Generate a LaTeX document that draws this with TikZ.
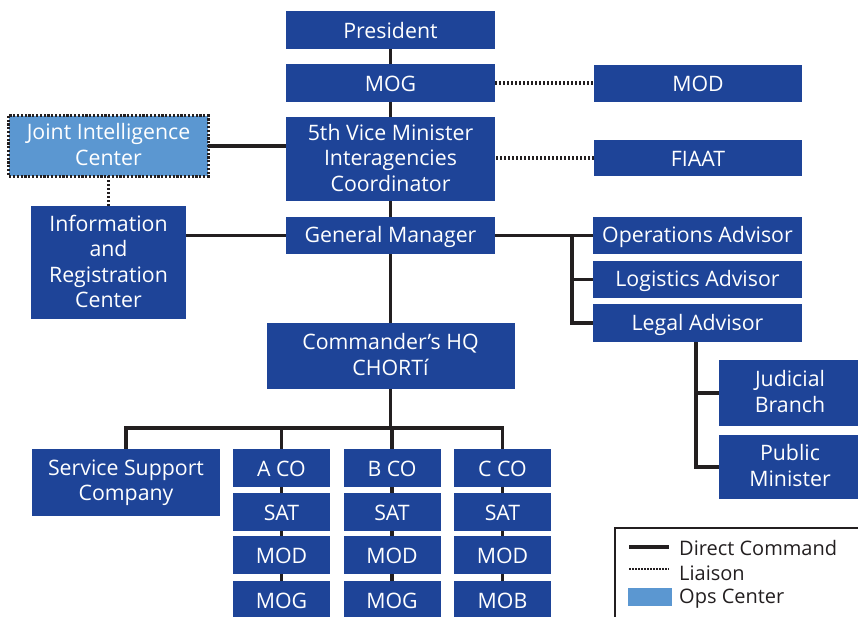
\documentclass[tikz,border=0pt]{standalone}
\usepackage{fontspec}
\setmainfont{Open Sans}
\definecolor{dblue}{HTML}{1E4498}
\definecolor{lblue}{HTML}{5B97D1}
\definecolor{ink}{HTML}{231F20}
\newcommand{\bxstrut}{\rule[-2.8pt]{0pt}{22.8pt}}
\begin{document}
\begin{tikzpicture}[x=1pt,y=-1pt,
  box/.style={fill=dblue, text=white, inner sep=0pt, align=center,
    font=\fontsize{21.3}{25.5}\selectfont,
    execute at begin node=\bxstrut, execute at end node=\bxstrut},
  cmd/.style={draw=ink, line width=3.6pt},
  liaison/.style={draw=ink, line width=3.4pt, dash pattern=on 2.2pt off 1.8pt},
  legtext/.style={anchor=west, inner sep=0pt, text=ink, font=\fontsize{20}{24}\selectfont}]
\useasboundingbox (0,0) rectangle (858,616);
\clip (0,0) rectangle (858,616);
% top column
\node[box, minimum width=209pt, minimum height=38pt] (pres) at (390.5,30) {President};
\node[box, minimum width=209pt, minimum height=38pt] (mog) at (390.5,83) {MOG};
\node[box, minimum width=209pt, minimum height=84pt] (vm) at (390.5,159) {5th Vice Minister\\Interagencies\\Coordinator};
\node[box, minimum width=209pt, minimum height=37pt] (gm) at (390.5,235.5) {General Manager};
\node[box, minimum width=248pt, minimum height=66pt] (hq) at (390.5,356) {Commander’s HQ\\CHORTí};
% right
\node[box, minimum width=208pt, minimum height=37pt] (mod) at (698,83) {MOD};
\node[box, minimum width=208pt, minimum height=36pt] (fiaat) at (698,158) {FIAAT};
\node[box, minimum width=209pt, minimum height=37pt] (ops) at (697.5,235.5) {Operations Advisor};
\node[box, minimum width=209pt, minimum height=37pt] (log) at (697.5,279.5) {Logistics Advisor};
\node[box, minimum width=209pt, minimum height=38pt] (legal) at (697.5,323) {Legal Advisor};
\node[box, minimum width=142pt, minimum height=66pt] (jud) at (790,393) {Judicial\\Branch};
\node[box, minimum width=142pt, minimum height=64pt] (pub) at (790,467) {Public\\Minister};
% left
\node[box, fill=lblue, minimum width=199pt, minimum height=60pt] (jic) at (108.5,146) {Joint Intelligence\\Center};
\draw[liaison, line width=3.2pt, dash pattern=on 2.2pt off 1.6pt] (jic.north west) rectangle (jic.south east);
\node[box, minimum width=155pt, minimum height=113pt] (info) at (108.5,262.5) {Information\\and\\Registration\\Center};
% bottom
\node[box, minimum width=188pt, minimum height=67pt] (ssc) at (126,482.5) {Service Support\\Company};
\foreach \c/\x/\u/\l in {a/281.5/A/MOG, b/392/B/MOG, c/502.5/C/MOB}{
  \node[box, minimum width=97pt, minimum height=38pt] (\c co) at (\x,468) {\u\ CO};
  \node[box, minimum width=97pt, minimum height=38pt] (\c sat) at (\x,512) {SAT};
  \node[box, minimum width=97pt, minimum height=38pt] (\c mod) at (\x,555) {MOD};
  \node[box, minimum width=97pt, minimum height=38pt] (\c mog) at (\x,600) {\l};
  \draw[cmd] (\c co) -- (\c sat);
  \draw[cmd] (\c sat) -- (\c mod);
  \draw[cmd] (\c mod) -- (\c mog);
}
\coordinate (bus) at (0,428);
\coordinate (brk) at (572,0);
\coordinate (lx) at (696,0);
% connectors
\draw[cmd] (pres) -- (mog);
\draw[cmd] (mog) -- (vm);
\draw[cmd] (vm) -- (gm);
\draw[cmd] (gm) -- (hq);
\draw[liaison] (mog) -- (mod);
\draw[liaison] (fiaat.west) -- (fiaat.west -| vm.east);
\draw[cmd] (jic.east) -- (jic.east -| vm.west);
\draw[liaison] (jic.south) -- (info.north);
\draw[cmd] (info.east |- gm.west) -- (gm.west);
\draw[cmd] (gm.east) -- (ops.west);
\draw[cmd] (brk |- ops.west) |- (legal.west);
\draw[cmd] (brk |- log.west) -- (log.west);
\draw[cmd] (lx |- legal.south) |- (pub.west);
\draw[cmd] (lx |- jud.west) -- (jud.west);
\draw[cmd] (hq.south) -- (hq.south |- bus);
\draw[cmd] (ssc.north) -- (ssc.north |- bus) -- (cco.north |- bus) -- (cco.north);
\draw[cmd] (aco.north) -- (aco.north |- bus);
\draw[cmd] (bco.north) -- (bco.north |- bus);
% legend
\node[draw=ink, line width=1.5pt, anchor=north west, minimum width=260pt, minimum height=110pt, inner sep=0pt] (legend) at (614,527) {};
\coordinate (l1a) at (629,547); \coordinate (l1b) at (669,547);
\coordinate (l2a) at (629,569); \coordinate (l2b) at (669,569);
\draw[cmd, line width=3.2pt] (l1a) -- (l1b);
\draw[ink, line width=2.4pt, dash pattern=on 1.6pt off 1.4pt] (l2a) -- (l2b);
\node[fill=lblue, minimum width=44pt, minimum height=18pt, inner sep=0pt] (sw) at (650,597) {};
\node[legtext] (t1) at (679,548) {Direct Command};
\node[legtext] (t2) at (679,573) {Liaison};
\node[legtext] (t3) at (679,599) {Ops Center};
\end{tikzpicture}
\end{document}
